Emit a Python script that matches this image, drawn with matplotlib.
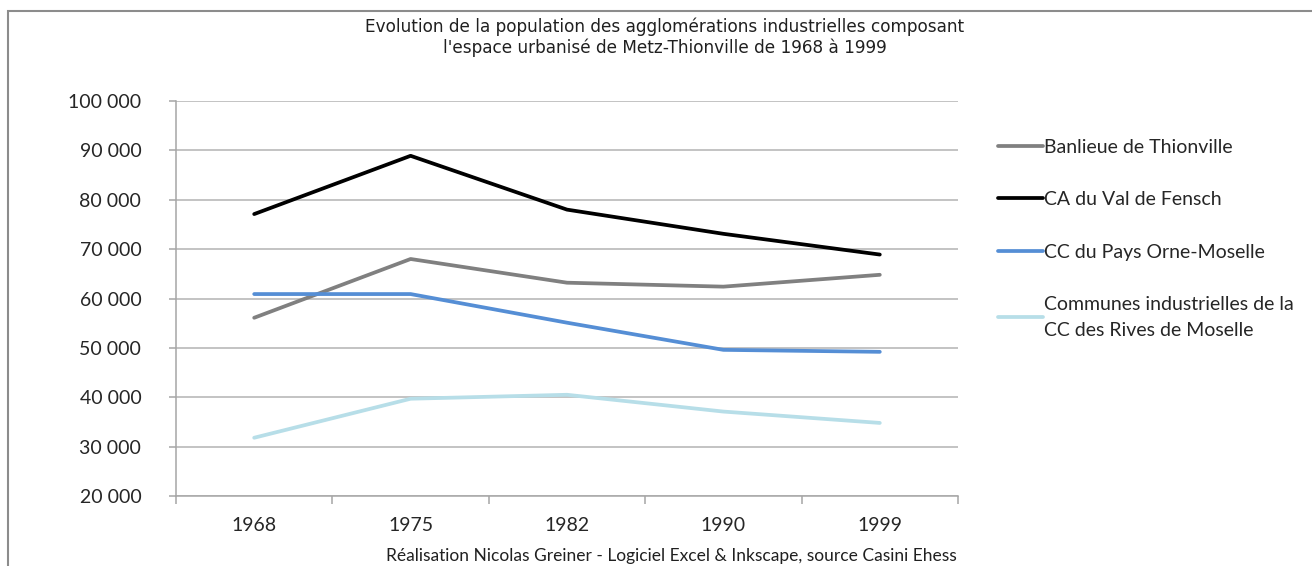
import matplotlib
matplotlib.use("Agg")
import matplotlib.pyplot as plt
from matplotlib.patches import Rectangle
from matplotlib.ticker import FuncFormatter, FixedLocator

years = ["1968", "1975", "1982", "1990", "1999"]
banlieue_thionville = [56100, 68000, 63200, 62400, 64800]
val_de_fensch = [77100, 88900, 78000, 73100, 68900]
orne_moselle = [60900, 60900, 55100, 49600, 49200]
rives_moselle = [31800, 39700, 40500, 37100, 34800]

labels = ["Banlieue de Thionville", "CA du Val de Fensch", "CC du Pays Orne-Moselle",
          "Communes industrielles de la\nCC des Rives de Moselle"]
colors = ["#808080", "#000000", "#558ed5", "#b7dee8"]
series = [banlieue_thionville, val_de_fensch, orne_moselle, rives_moselle]

fig = plt.figure(figsize=(13.12, 5.66), dpi=100)
fig.patch.set_facecolor("white")
ax = fig.add_axes([176/1312, 70/566, (958-176)/1312, (496-101)/566])

x = list(range(len(years)))
for s, lab, c in zip(series, labels, colors):
    ax.plot(x, s, color=c, lw=2.7, label=lab, solid_capstyle="round",
            solid_joinstyle="round", zorder=3)

ax.set_xlim(-0.5, len(years) - 0.5)
ax.set_ylim(20000, 100000)
ax.set_yticks(range(20000, 100001, 10000))
ax.yaxis.set_major_formatter(FuncFormatter(lambda v, p: f"{int(v):,}".replace(",", " ")))
ax.set_xticks(x)
ax.set_xticklabels(years)
ax.xaxis.set_minor_locator(FixedLocator([i - 0.5 for i in range(len(years) + 1)]))
ax.grid(axis="y", color="#b3b3b3", lw=1.1, zorder=0)
for sp in ["top", "right"]:
    ax.spines[sp].set_visible(False)
for sp in ["left", "bottom"]:
    ax.spines[sp].set_color("#a6a6a6")
    ax.spines[sp].set_linewidth(1.1)
ax.tick_params(axis="x", which="major", length=0, pad=15)
ax.tick_params(axis="x", which="minor", length=6, color="#a6a6a6", width=1.1)
ax.tick_params(axis="y", length=5, color="#a6a6a6", width=1.1, pad=20)
for t in ax.get_xticklabels() + ax.get_yticklabels():
    t.set_fontfamily("Lato")
    t.set_fontsize(14)
    t.set_color("#262626")

leg = fig.legend(loc="upper left", bbox_to_anchor=(990/1312, 1 - 131/566), frameon=False,
                 prop={"family": "Lato", "size": 14}, handlelength=2.3, handletextpad=0.1,
                 labelspacing=1.82, borderaxespad=0)
for t in leg.get_texts():
    t.set_color("#262626")
    t.set_linespacing(1.62)

fig.text(665/1312, 1 - 37/566, "Evolution de la population des agglomérations industrielles composant\nl'espace urbanisé de Metz-Thionville de 1968 à 1999",
         ha="center", va="center", fontsize=12.2, family="DejaVu Sans", linespacing=1.15, color="#202020")
fig.text(671/1312, 1 - 556/566, "Réalisation Nicolas Greiner - Logiciel Excel & Inkscape, source Casini Ehess",
         ha="center", va="center", fontsize=12.5, family="Lato", color="#202020")

fig.patches.append(Rectangle((8/1312, -0.1), 1.2, 1.1 - 11/566, transform=fig.transFigure,
                             fill=False, edgecolor="#8c8c8c", lw=1.5))

fig.savefig("out.png", dpi=100)
